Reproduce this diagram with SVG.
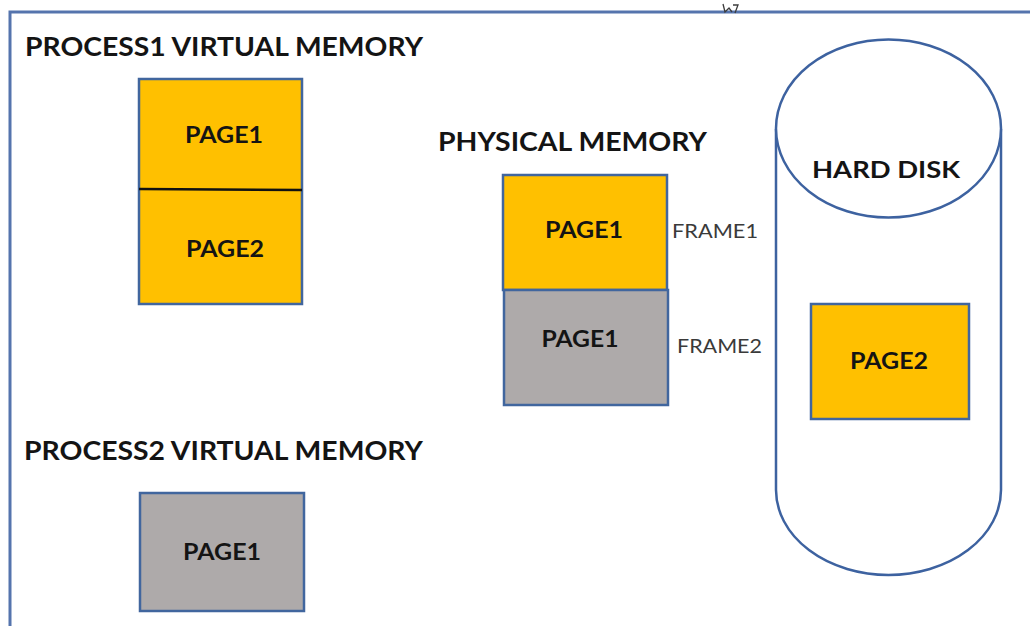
<svg xmlns="http://www.w3.org/2000/svg" width="1030" height="626" viewBox="0 0 1030 626">
  <style>
    .title { font-family: Lato, "Liberation Sans", sans-serif; font-weight: 700; font-size: 27px; fill: #141414; }
    .page { font-family: Lato, "Liberation Sans", sans-serif; font-weight: 700; font-size: 23px; fill: #141414; text-anchor: middle; }
    .frame-label { font-family: Lato, "Liberation Sans", sans-serif; font-weight: 400; font-size: 19px; fill: #3a3a3a; }
    .yellow { fill: #FFC000; stroke: #41669e; stroke-width: 2.5; }
    .gray { fill: #AEAAAA; stroke: #41669e; stroke-width: 2.5; }
    .disk { fill: #ffffff; stroke: #3d62a0; stroke-width: 2.5; }
  </style>

  <rect width="1030" height="626" fill="#ffffff"/>

  <!-- outer frame (top and left edges visible) -->
  <path d="M10 626 V12 H1030" fill="none" stroke="#5574ad" stroke-width="3"/>

  <!-- small cursor mark on the top edge -->
  <path d="M723 4 L725 12 L729 8 L732 12 M733 5 H738 L735 13" fill="none" stroke="#3c3c3c" stroke-width="1.3"/>

  <!-- Process 1 virtual memory -->
  <g id="process1">
    <text class="title" x="25" y="56" textLength="398" lengthAdjust="spacingAndGlyphs">PROCESS1 VIRTUAL MEMORY</text>
    <rect class="yellow" x="139" y="79" width="163" height="225"/>
    <line x1="139" y1="189" x2="302" y2="190" stroke="#111111" stroke-width="2.5"/>
    <text class="page" x="224" y="143" textLength="78" lengthAdjust="spacingAndGlyphs">PAGE1</text>
    <text class="page" x="225" y="257" textLength="78" lengthAdjust="spacingAndGlyphs">PAGE2</text>
  </g>

  <!-- Process 2 virtual memory -->
  <g id="process2">
    <text class="title" x="24" y="460" textLength="399" lengthAdjust="spacingAndGlyphs">PROCESS2 VIRTUAL MEMORY</text>
    <rect class="gray" x="140" y="493" width="164" height="118"/>
    <text class="page" x="222" y="560" textLength="78" lengthAdjust="spacingAndGlyphs">PAGE1</text>
  </g>

  <!-- Physical memory -->
  <g id="physical-memory">
    <text class="title" x="438" y="151" textLength="269" lengthAdjust="spacingAndGlyphs">PHYSICAL MEMORY</text>
    <g id="frame1">
      <rect class="yellow" x="503" y="175" width="164" height="115"/>
      <text class="page" x="584" y="238" textLength="78" lengthAdjust="spacingAndGlyphs">PAGE1</text>
      <text class="frame-label" x="672" y="238" textLength="86" lengthAdjust="spacingAndGlyphs">FRAME1</text>
    </g>
    <g id="frame2">
      <rect class="gray" x="504" y="290" width="164" height="115"/>
      <text class="page" x="580" y="347" textLength="77" lengthAdjust="spacingAndGlyphs">PAGE1</text>
      <text class="frame-label" x="677" y="353" textLength="85" lengthAdjust="spacingAndGlyphs">FRAME2</text>
    </g>
  </g>

  <!-- Hard disk -->
  <g id="hard-disk">
    <path class="disk" d="M776 129 V490 A112.5 85 0 0 0 1001 490 V129"/>
    <ellipse class="disk" cx="888.5" cy="128.5" rx="112.5" ry="89"/>
    <text class="page" x="886" y="178" textLength="148" lengthAdjust="spacingAndGlyphs">HARD DISK</text>
    <g id="disk-page2">
      <rect class="yellow" x="811" y="304" width="158" height="115"/>
      <text class="page" x="889" y="369" textLength="78" lengthAdjust="spacingAndGlyphs">PAGE2</text>
    </g>
  </g>
</svg>
